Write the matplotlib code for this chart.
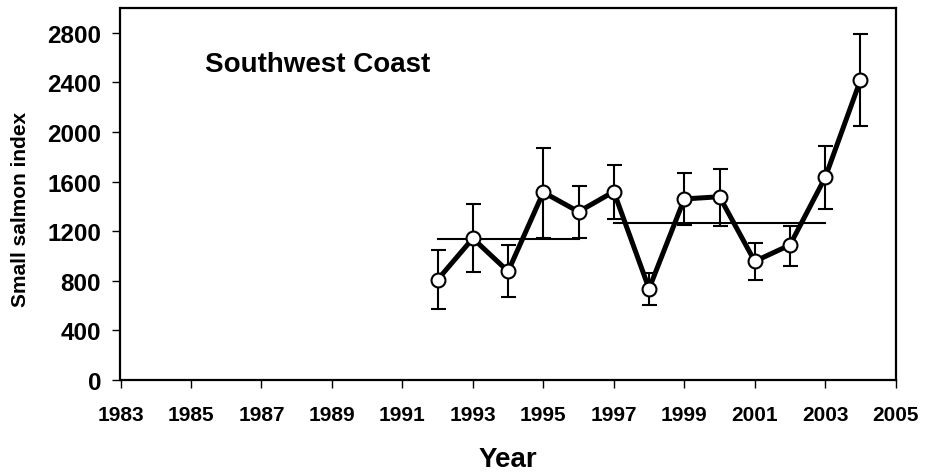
import matplotlib
matplotlib.use("Agg")
import matplotlib.pyplot as plt

years = [1992, 1993, 1994, 1995, 1996, 1997, 1998, 1999, 2000, 2001, 2002, 2003, 2004]
index = [809, 1142, 876, 1514, 1357, 1519, 736, 1460, 1478, 957, 1089, 1634, 2419]
upper = [1051, 1419, 1089, 1871, 1562, 1736, 862, 1667, 1702, 1105, 1244, 1884, 2793]
lower = [570, 868, 667, 1148, 1148, 1301, 602, 1250, 1244, 809, 919, 1379, 2048]

mean_periods = [(1992, 1996), (1997, 2003)]
mean_values = [1140, 1266]

xticks = list(range(1983, 2006, 2))
yticks = list(range(0, 2801, 400))

plt.rcParams['font.family'] = ['Liberation Sans', 'DejaVu Sans']
plt.rcParams['font.weight'] = 'bold'

fig = plt.figure(figsize=(9.29, 4.77), dpi=100)
ax = fig.add_axes([120.5/929, 1 - 381/477, (895.7-120.5)/929, (381-9)/477])

yerr = [[v - l for v, l in zip(index, lower)], [u - v for v, u in zip(index, upper)]]
ax.errorbar(years, index, yerr=yerr, fmt='none', ecolor='black', elinewidth=1.5,
            capsize=5.4, capthick=1.5, zorder=2)
for (x0, x1), m in zip(mean_periods, mean_values):
    ax.plot([x0, x1], [m, m], color='black', lw=1.5, zorder=2)
ax.plot(years, index, color='black', lw=3.6, marker='o', markersize=10,
        markerfacecolor='white', markeredgecolor='black', markeredgewidth=1.5, zorder=3)

ax.set_xlim(1983, 2005)
ax.set_ylim(0, 3000)
ax.set_xticks(xticks)
ax.set_yticks(yticks)
ax.tick_params(axis='both', direction='out', length=6, width=1)
ax.tick_params(axis='y', pad=8, labelsize=17.5)
ax.tick_params(axis='x', pad=12, labelsize=15)
for lab in ax.get_xticklabels() + ax.get_yticklabels():
    lab.set_fontweight('bold')
for s in ax.spines.values():
    s.set_linewidth(1.6)

ax.text(0.109, 0.830, 'Southwest Coast', transform=ax.transAxes, fontsize=20,
        fontweight='bold', ha='left', va='baseline')
ax.set_xlabel('Year', fontsize=20, fontweight='bold', labelpad=16)
ax.set_ylabel('Small salmon index', fontsize=15, fontweight='bold')
ax.yaxis.set_label_coords(-0.117, 0.46)

fig.savefig('out.png', dpi=100)
